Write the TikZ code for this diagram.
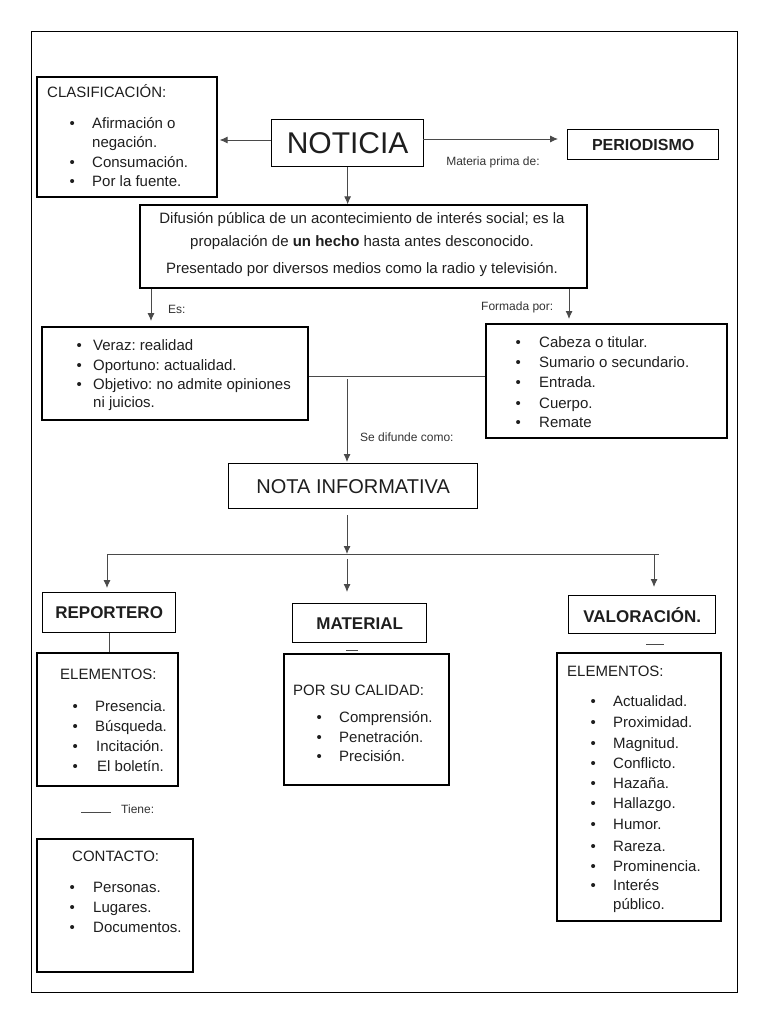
\documentclass[tikz,border=0pt]{standalone}
\usepackage{fontspec}
\setmainfont{Liberation Sans}
\usetikzlibrary{arrows.meta,fit}
\definecolor{ink}{HTML}{1E1E1E}
\definecolor{lbl}{HTML}{333333}
\definecolor{wire}{HTML}{4A4A4A}
\newcommand\myfs[1]{\fontsize{#1}{#1}\selectfont}
\frenchspacing
\tikzset{
  frame/.style={draw=black, line width=1pt, inner sep=0pt},
  listbox/.style={draw=black, line width=1.3pt, inner sep=0pt},
  titlebox/.style={draw=black, line width=1.3pt, inner sep=0pt, anchor=north west, text=ink},
  conn/.style={draw=wire, line width=0.9pt},
  arr/.style={conn, -{Latex[length=8pt,width=7pt]}},
  txt/.style={anchor=base west, inner sep=0pt, text=ink, font=\myfs{15}},
  ctxt/.style={anchor=base, inner sep=0pt, text=ink, font=\myfs{15}},
  bul/.style={anchor=base west, inner sep=0pt, text=ink, font=\myfs{15}},
  lab/.style={anchor=base west, inner sep=0pt, text=lbl, font=\myfs{12}},
}
\begin{document}
\frenchspacing
\begin{tikzpicture}[x=1pt,y=-1pt]
\useasboundingbox (0,0) rectangle (768,1024);
% outer frame
\node[frame, fit={(31,32) (737,992)}] (outer) {};

% ---- title boxes
\node[titlebox, minimum width=152pt, minimum height=47pt, font=\myfs{30}] (noticia) at (271,119) {NOTICIA};
\node[titlebox, minimum width=151pt, minimum height=30pt, font=\bfseries\myfs{16}] (periodismo) at (567,129) {PERIODISMO};
\node[titlebox, minimum width=249pt, minimum height=45pt, font=\myfs{20}] (nota) at (228,463) {NOTA INFORMATIVA};
\node[titlebox, minimum width=133pt, minimum height=40pt, font=\bfseries\myfs{17}] (reportero) at (42,592) {REPORTERO};
\node[titlebox, minimum width=134pt, minimum height=39pt, font=\bfseries\myfs{17}] (material) at (292,603) {MATERIAL};
\node[titlebox, minimum width=147pt, minimum height=38pt, font=\bfseries\myfs{17}] (valoracion) at (568,595) {VALORACIÓN.};

% ---- list boxes
\node[listbox, fit={(37,77) (217,197)}] (clasif) {};
\node[listbox, fit={(140,205) (587,288)}] (def) {};
\node[listbox, fit={(42,327) (308,420)}] (es) {};
\node[listbox, fit={(486,324) (727,438)}] (formada) {};
\node[listbox, fit={(37,653) (178,786)}] (repelem) {};
\node[listbox, fit={(37,839) (193,972)}] (contacto) {};
\node[listbox, fit={(284,654) (449,785)}] (matbox) {};
\node[listbox, fit={(557,653) (721,921)}] (valelem) {};

% ---- clasificacion
\node[txt] (clT) at (47,98) {CLASIFICACIÓN:};
\node[bul] (clB1) at (69.5,129) {•};
\node[txt] (cl1) at (92,129) {Afirmación o};
\node[txt] (cl1b) at (92,148) {negación.};
\node[bul] (clB2) at (69.5,168) {•};
\node[txt] (cl2) at (92,168) {Consumación.};
\node[bul] (clB3) at (69.5,187) {•};
\node[txt] (cl3) at (92,187) {Por la fuente.};

% ---- definicion
\node[ctxt] (d1) at (362,223) {Difusión pública de un acontecimiento de interés social; es la};
\node[ctxt] (d2) at (362,246) {propalación de \textbf{un hecho} hasta antes desconocido.};
\node[ctxt] (d3) at (362,273) {Presentado por diversos medios como la radio y televisión.};

% ---- es
\node[bul] (esB1) at (76.5,350) {•};
\node[txt] (es1) at (93,350) {Veraz: realidad};
\node[bul] (esB2) at (76.5,370) {•};
\node[txt] (es2) at (93,370) {Oportuno: actualidad.};
\node[bul] (esB3) at (76.5,389) {•};
\node[txt] (es3) at (93,389) {Objetivo: no admite opiniones};
\node[txt] (es3b) at (93,407) {ni juicios.};

% ---- formada
\node[bul] (foB1) at (515.5,347) {•};
\node[txt] (fo1) at (539,347) {Cabeza o titular.};
\node[bul] (foB2) at (515.5,367) {•};
\node[txt] (fo2) at (539,367) {Sumario o secundario.};
\node[bul] (foB3) at (515.5,387) {•};
\node[txt] (fo3) at (539,387) {Entrada.};
\node[bul] (foB4) at (515.5,408) {•};
\node[txt] (fo4) at (539,408) {Cuerpo.};
\node[bul] (foB5) at (515.5,427) {•};
\node[txt] (fo5) at (539,427) {Remate};

% ---- reportero elementos
\node[txt] (reT) at (60,679) {ELEMENTOS:};
\node[bul] (reB1) at (72.5,711) {•};
\node[txt] (re1) at (95,711) {Presencia.};
\node[bul] (reB2) at (72.5,731) {•};
\node[txt] (re2) at (95,731) {Búsqueda.};
\node[bul] (reB3) at (72.5,751) {•};
\node[txt] (re3) at (96,751) {Incitación.};
\node[bul] (reB4) at (72.5,771) {•};
\node[txt] (re4) at (97,771) {El boletín.};

% ---- contacto
\node[txt] (coT) at (72,861) {CONTACTO:};
\node[bul] (coB1) at (69.5,892) {•};
\node[txt] (co1) at (93,892) {Personas.};
\node[bul] (coB2) at (69.5,912) {•};
\node[txt] (co2) at (93,912) {Lugares.};
\node[bul] (coB3) at (69.5,932) {•};
\node[txt] (co3) at (93,932) {Documentos.};

% ---- material
\node[txt] (maT) at (293,695) {POR SU CALIDAD:};
\node[bul] (maB1) at (316.5,722) {•};
\node[txt] (ma1) at (339,722) {Comprensión.};
\node[bul] (maB2) at (316.5,742) {•};
\node[txt] (ma2) at (339,742) {Penetración.};
\node[bul] (maB3) at (316.5,761) {•};
\node[txt] (ma3) at (339,761) {Precisión.};

% ---- valoracion elementos
\node[txt] (vaT) at (567,676) {ELEMENTOS:};
\foreach \i/\yy/\t in {1/706/Actualidad., 2/727/Proximidad., 3/748/Magnitud., 4/768/Conflicto., 5/788/Hazaña., 6/808/Hallazgo., 7/829/Humor., 8/851/Rareza., 9/871/Prominencia., 10/890/Interés}{
  \node[bul] (vaB\i) at (590.5,\yy) {•};
  \node[txt] (va\i) at (613,\yy) {\t};
}
\node[txt] (va10b) at (613,909) {público.};

% ---- labels
\node[lab, anchor=base] (lMateria) at (493,166) {Materia prima de:};
\node[lab] (lEs) at (168,313) {Es:};
\node[lab] (lFormada) at (481,310) {Formada por:};
\node[lab] (lSe) at (360,441) {Se difunde como:};
\node[lab] (lTiene) at (121,813) {Tiene:};

% ---- connector points
\coordinate (cNoL) at (271,140);
\coordinate (cNoR) at (423,139);
\coordinate (cEs) at (151,327);
\coordinate (cFo) at (569,324);
\coordinate (cSplit) at (347,376);
\coordinate (cBarL) at (107,554);
\coordinate (cBarM) at (347,554);
\coordinate (cBarV) at (654,554);
\coordinate (cBarR) at (659,554);
\coordinate (dM1) at (346,650);
\coordinate (dM2) at (358,650);
\coordinate (dV1) at (646,644);
\coordinate (dV2) at (664,644);
\coordinate (tA) at (81,812);
\coordinate (tB) at (111,812);

% ---- connectors
\draw[arr, shorten >=2pt] (cNoL) -- (cNoL -| clasif.east);
\draw[arr, shorten >=9pt] (cNoR) -- (cNoR -| periodismo.west);
\draw[arr] (noticia.south) -- (noticia.south |- def.north);
\draw[arr, shorten >=6pt] (cEs |- def.south) -- (cEs);
\draw[arr, shorten >=5pt] (cFo |- def.south) -- (cFo);
\draw[conn] (es.east |- cSplit) -- (formada.west |- cSplit);
\draw[arr, shorten <=3pt, shorten >=1pt] (cSplit) -- (cSplit |- nota.north);
\draw[arr, shorten <=6pt] (cBarM |- nota.south) -- (cBarM);
\draw[conn] (cBarL) -- (cBarR);
\draw[arr, shorten >=4pt] (cBarL) -- (cBarL |- reportero.north);
\draw[arr, shorten <=5pt, shorten >=11pt] (cBarM) -- (cBarM |- material.north);
\draw[arr, shorten >=8pt] (cBarV) -- (cBarV |- valoracion.north);
\draw[conn] (reportero.south) -- (reportero.south |- repelem.north);
\draw[conn] (dM1) -- (dM2);
\draw[conn] (dV1) -- (dV2);
\draw[conn] (tA) -- (tB);
\end{tikzpicture}
\end{document}
